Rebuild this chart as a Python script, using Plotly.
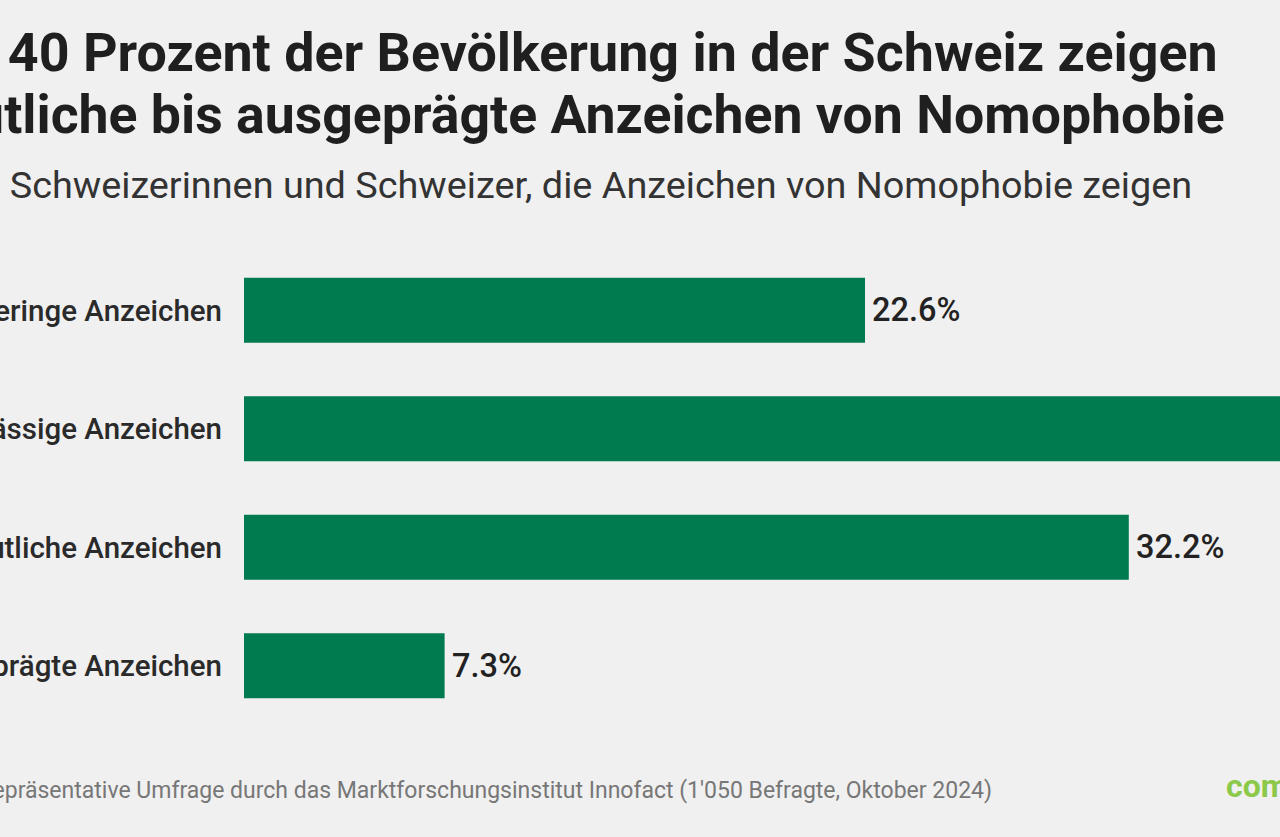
import plotly.graph_objects as go

categories = ["Geringe Anzeichen", "Mässige Anzeichen", "Deutliche Anzeichen", "Ausgeprägte Anzeichen"]
values = [22.6, 37.9, 32.2, 7.3]

title_line1 = "Knapp 40 Prozent der Bevölkerung in der Schweiz zeigen"
title_line2 = "deutliche bis ausgeprägte Anzeichen von Nomophobie"
subtitle = "Anteil Schweizerinnen und Schweizer, die Anzeichen von Nomophobie zeigen"
source = "Quelle: Repräsentative Umfrage durch das Marktforschungsinstitut Innofact (1'050 Befragte, Oktober 2024)"
logo = "comparis.ch"

W, H = 1280, 837
ML, MR, MT, MB = 244, 0, 251, 112
PW, PH = W - ML - MR, H - MT - MB
px_per_pct = 621 / 22.6

def px(xp):
    return (xp - ML) / PW

def py(yp):
    return (H - MB - yp) / PH

BG = "#f0f0f0"
GREEN = "#007a4f"

fig = go.Figure(go.Bar(
    x=values, y=categories, orientation="h",
    marker=dict(color=GREEN, line=dict(width=0)),
    cliponaxis=True,
))

fig.update_layout(
    width=W, height=H,
    margin=dict(l=ML, r=MR, t=MT, b=MB, autoexpand=False),
    paper_bgcolor=BG, plot_bgcolor=BG,
    bargap=0.45, showlegend=False,
    font=dict(family="Roboto"),
    xaxis=dict(range=[0, PW / px_per_pct], visible=False, fixedrange=True, automargin=False),
    yaxis=dict(autorange="reversed", showgrid=False, zeroline=False, showline=False,
               ticks="", ticklabelstandoff=21, automargin=False, fixedrange=True,
               tickfont=dict(family="Roboto", size=29.5, color="#2a2a2a", weight=500)),
)

# value labels next to the bar ends
for cat, v in zip(categories, values):
    fig.add_annotation(x=v, y=cat, xref="x", yref="y", text=f"{v:.1f}%",
                       xanchor="left", yanchor="middle", xshift=5, showarrow=False,
                       font=dict(family="Roboto", size=32.5, color="#222222", weight=500))

def ann(text, xp, yp, size, color, anchor="right", weight=400):
    fig.add_annotation(text=text, xref="paper", yref="paper", x=px(xp), y=py(yp),
                       xanchor=anchor, yanchor="middle", showarrow=False,
                       font=dict(family="Roboto", size=size, color=color, weight=weight))

ann(title_line1, 1220, 52.5, 53.8, "#1f1f1f", weight=700)
ann(title_line2, 1227, 114, 53.6, "#1f1f1f", weight=700)
ann(subtitle, 1194, 185, 37.8, "#333333")
ann(source, 994, 790, 23, "#777777")
ann(logo, 1224, 786, 32, "#8cc94a", anchor="left", weight=700)

fig.write_html("out.html", config={"displayModeBar": False},
               post_script="document.body.style.margin='0';document.body.style.overflow='hidden';")
